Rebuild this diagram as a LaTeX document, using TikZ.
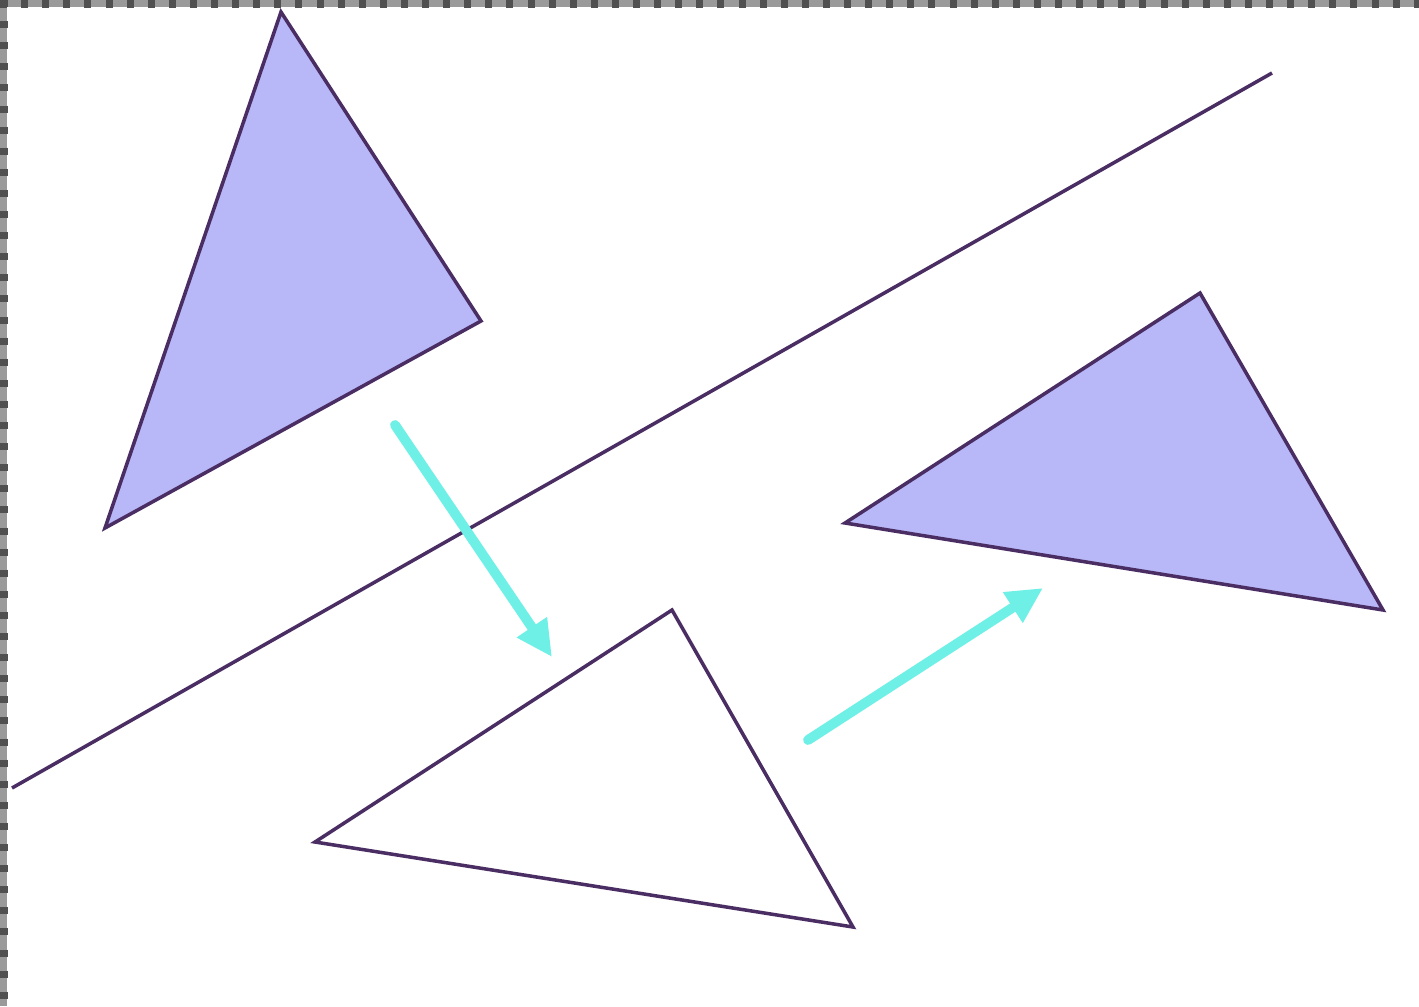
\documentclass[tikz,border=0pt]{standalone}
\usepackage{xcolor}
\usepackage{tikz}
\usetikzlibrary{arrows.meta}
\definecolor{triFill}{HTML}{B8B8F8}
\definecolor{triLine}{HTML}{4A2E63}
\definecolor{moveCyan}{HTML}{6EF0E6}
\definecolor{frameGrey}{HTML}{9A9A9A}
\definecolor{frameDot}{HTML}{505050}
\tikzset{
  shadedtri/.style={draw=triLine, fill=triFill, line width=1pt, line join=miter},
  plaintri/.style={draw=triLine, fill=white, line width=1pt, line join=miter},
  mirrorline/.style={draw=triLine, line width=1pt},
  movearrow/.style={-{Triangle[length=3.6mm,width=3.4mm]}, draw=moveCyan, line width=2.8pt, line cap=round},
  framestrip/.style={fill=frameGrey, draw=none},
}
\begin{document}
\begin{tikzpicture}[x=0.01cm,y=-0.01cm]
      \useasboundingbox (0,0) rectangle (1419,1006);
      \fill[white] (0,0) rectangle (1419,1006);
      % frame
      \fill[framestrip] (0,0) rectangle (1419,7);
      \fill[framestrip] (0,0) rectangle (7,1006);
      \draw[frameDot, line width=2.5pt, dash pattern=on 2pt off 4pt] (0,3.5) -- (1419,3.5);
      \draw[frameDot, line width=2.5pt, dash pattern=on 2pt off 4pt] (3.5,0) -- (3.5,1006);
      % mirror line
      \coordinate (mirA) at (12,788);
      \coordinate (mirB) at (1272,73);
      \draw[mirrorline] (mirA) -- (mirB);
      % triangles
      \draw[shadedtri] (281,12) -- (481,321) -- (105,528) -- cycle;
      \draw[plaintri] (672,610) -- (853,927) -- (315,842) -- cycle;
      \draw[shadedtri] (1200,293) -- (1383,610) -- (845,523) -- cycle;
      % moves
      \coordinate (reflS) at (395,425);
      \coordinate (reflE) at (552,657);
      \coordinate (slideS) at (808,740);
      \coordinate (slideE) at (1043,588);
      \draw[movearrow] (reflS) -- (reflE);
      \draw[movearrow] (slideS) -- (slideE);
    \end{tikzpicture}
\end{document}
